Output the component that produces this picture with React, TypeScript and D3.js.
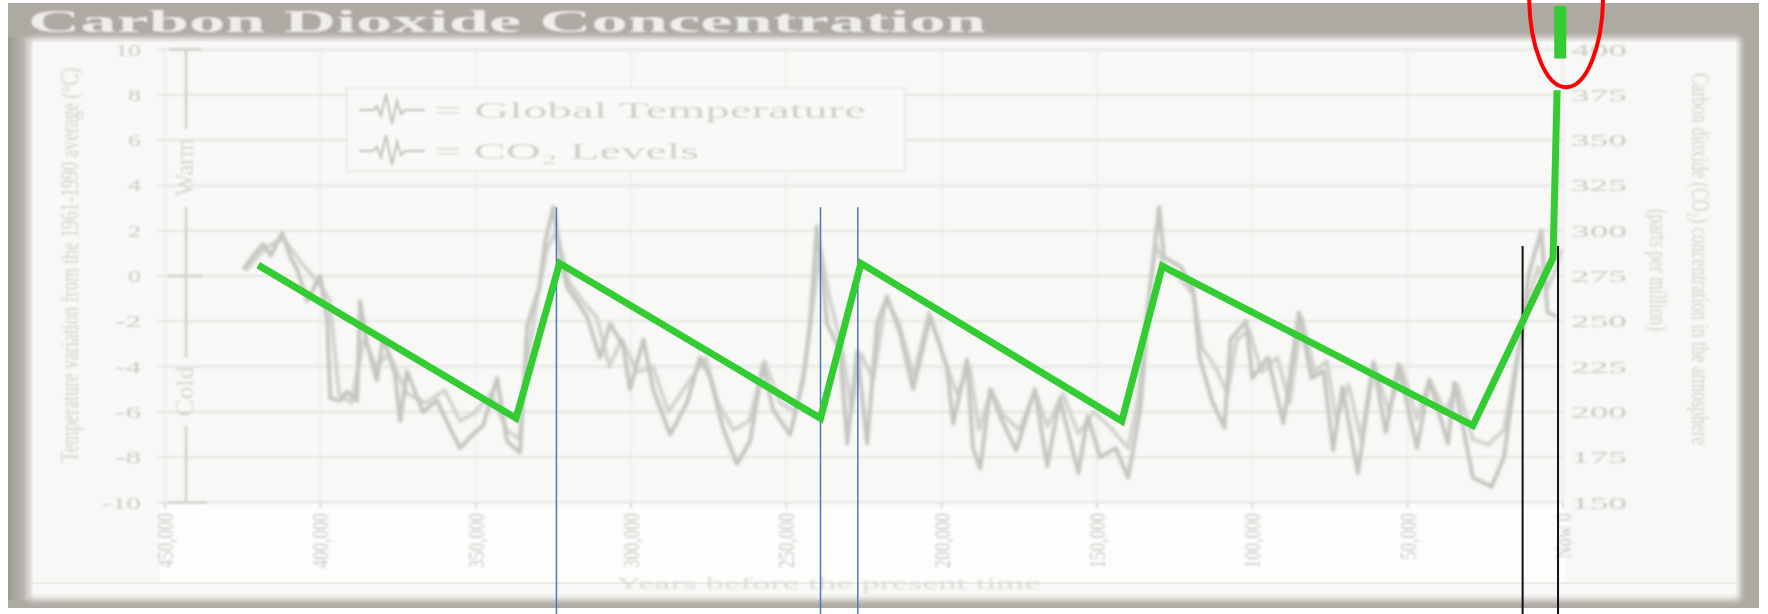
import React from "react";
import * as d3 from "d3";

// ---------- data ----------
const ageTicks = [450, 400, 350, 300, 250, 200, 150, 100, 50, 0];
const ageTickLabels = ["450,000", "400,000", "350,000", "300,000", "250,000", "200,000", "150,000", "100,000", "50,000", "Now 0"];
const tempTicks = [10, 8, 6, 4, 2, 0, -2, -4, -6, -8, -10];
const co2Ticks = [400, 375, 350, 325, 300, 275, 250, 225, 200, 175, 150];

// Global temperature (age in thousands of years, °C vs 1961-1990)
const temperature: [number, number][] = [
  [424.8, 0.3], [421, 1.0], [418.4, 1.4], [416, 0.9], [412.3, 1.9], [409.5, 0.8], [407.5, 0.3], [404.2, -1.1],
  [400.1, 0.0], [397.8, -1.9], [396.8, -5.4], [393.5, -5.5], [391.4, -5.1], [388.2, -5.5], [387.2, -1.1], [385, -3.0],
  [381.8, -4.6], [379.8, -2.7], [376, -4.3], [374.3, -6.4], [372.1, -4.2], [367, -6.0], [362.4, -5.5], [358, -6.8],
  [355, -7.6], [351, -7.0], [347.6, -6.6], [343.1, -4.5], [339.9, -7.3], [335.7, -7.8], [333.4, -2.2], [329.5, -0.5],
  [327.6, 1.5], [325, 3.05], [322.5, 0.6], [320.5, -0.5], [317, -1.2], [314.1, -1.8], [310, -3.6], [306.7, -2.1],
  [302.5, -3.1], [300.3, -5.0], [296, -2.8], [292.9, -5.0], [287.4, -7.0], [282, -5.6], [277.8, -3.6], [274.5, -4.5],
  [270.4, -6.7], [265.9, -8.3], [261.7, -7.3], [257.5, -3.9], [254.3, -5.9], [248.8, -7.0], [244.6, -4.6], [242.4, -2.1],
  [240.1, 2.2], [236.9, -2.1], [232.7, -3.3], [230.4, -7.4], [227.2, -3.3], [224, -7.4], [220.8, -2.1], [217.6, -0.9],
  [213.4, -2.5], [209.2, -5.0], [203.7, -1.8], [198.3, -4.0], [196.3, -6.5], [191.8, -3.7], [189.9, -7.6], [187.6, -8.5],
  [184.4, -5.0], [181.2, -6.2], [176, -7.7], [170, -5.0], [166, -8.4], [162, -5.4], [156, -8.7], [153, -6.2],
  [149, -8.0], [144, -7.6], [140, -8.9], [136, -5.8], [133, -0.6], [130, 3.05], [128.5, 0.85], [123, 0.4],
  [119, -0.6], [117, -3.6], [113, -5.5], [109, -6.7], [107, -2.8], [102, -2.0], [100, -4.5], [95, -3.6],
  [90, -6.5], [85, -1.6], [81, -4.5], [77, -4.2], [74, -7.7], [71, -4.9], [66, -8.7], [61, -3.9],
  [57, -6.9], [53, -3.9], [47, -7.6], [43, -4.6], [37, -7.4], [35, -4.7], [29, -8.9], [23, -9.3],
  [19, -8.0], [15, -4.0], [11, 0.1], [7, 2.0], [5, -1.6], [2, -1.8],
];

// CO2 levels (age in thousands of years, ppm)
const co2: [number, number][] = [
  [424, 278], [418, 290], [412, 296], [406, 282], [400, 270], [397, 262], [394, 210], [390, 205], [386, 240],
  [382, 225], [378, 232], [372, 210], [366, 205], [360, 212], [355, 195], [350, 200], [345, 210], [340, 190],
  [336, 185], [333, 230], [330, 265], [327, 290], [324, 300], [320, 272], [316, 262], [311, 252], [307, 225],
  [303, 240], [298, 222], [293, 225], [288, 200], [282, 215], [276, 230], [272, 205], [267, 190], [262, 195],
  [257, 228], [252, 205], [247, 200], [244, 225], [241, 265], [239, 290], [236, 262], [232, 235], [229, 200],
  [226, 232], [222, 218], [218, 262], [214, 250], [209, 220], [204, 255], [199, 228], [195, 210], [191, 225],
  [188, 190], [184, 212], [180, 198], [175, 190], [170, 212], [166, 192], [161, 210], [156, 188], [151, 200],
  [146, 192], [140, 180], [137, 205], [134, 255], [131, 292], [128, 280], [124, 275], [119, 265], [116, 235],
  [112, 225], [108, 210], [105, 240], [101, 245], [97, 222], [92, 230], [88, 205], [84, 252], [80, 222],
  [76, 228], [73, 195], [69, 215], [65, 185], [61, 228], [56, 200], [52, 225], [47, 196], [43, 218],
  [38, 200], [34, 215], [29, 185], [24, 182], [19, 190], [15, 228], [11, 262], [8, 280], [5, 268],
  [2, 280], [0.5, 290],
];

// Green overlay (age k, ppm)
const greenTrend: [number, number][] = [
  [420, 281], [337, 196.5], [323, 282], [239, 196.5], [226, 282], [142, 195], [129, 280.5],
  [29, 192.5], [3.2, 285], [1.9, 377.5],
];
const greenTop: [number, number][] = [[0.9, 395], [0.9, 424]];

// Marker lines (age k, top value in ppm)
const blueMarkers: [number, number][] = [[324, 313], [239, 313], [227, 313]];
const blackMarkers: [number, number][] = [[13, 291.5], [1.6, 291.5]];
// Highlight ellipse (age k, ppm)
const highlight = { age: -1, ppm: 430 };

const legendItems = ["= Global Temperature", "= CO\u2082 Levels"];

// ---------- layout ----------
const W = 1768, H = 614;
const x = d3.scaleLinear().domain([450, 0]).range([165, 1563]);
const yT = d3.scaleLinear().domain([-10, 10]).range([502.5, 49.5]);
const yC = d3.scaleLinear().domain([150, 400]).range([502.5, 49.5]);

const serif = "'Liberation Serif', 'DejaVu Serif', 'Times New Roman', serif";
const faint = "#cbcbc7";

export default function App() {
  const tLine = d3.line<[number, number]>().x(d => x(d[0])).y(d => yT(d[1]));
  const cLine = d3.line<[number, number]>().x(d => x(d[0])).y(d => yC(d[1]));
  const icon = "M 0 0 L 14 0 L 18 -4 L 22 6 L 27 -16 L 33 14 L 38 -9 L 42 4 L 46 0 L 66 0";

  return (
    <svg width={W} height={H} style={{ position: "absolute", left: 0, top: 0 }}>
      <defs>
        <filter id="soft" x="-5%" y="-5%" width="110%" height="110%">
          <feGaussianBlur stdDeviation="1.2" />
        </filter>
        <filter id="softer" x="-5%" y="-5%" width="110%" height="110%">
          <feGaussianBlur stdDeviation="1.6" />
        </filter>
        <filter id="edge" x="-5%" y="-5%" width="110%" height="110%">
          <feGaussianBlur stdDeviation="3" />
        </filter>
        <linearGradient id="leftEdge" x1="0" x2="1" y1="0" y2="0">
          <stop offset="0" stopColor="#9c9992" />
          <stop offset="1" stopColor="#c2c0ba" />
        </linearGradient>
      </defs>
      <rect x={0} y={0} width={W} height={H} fill="#ffffff" />
      {/* frame */}
      <rect x={8} y={3} width={1751} height={605} fill="#adaaa3" />
      <rect x={8} y={37} width={21} height={563} fill="url(#leftEdge)" />
      <rect x={29} y={38} width={1711} height={562} fill="#f7f7f5" filter="url(#edge)" />
      <rect x={33} y={42} width={1703} height={552} fill="#f8f8f6" />
      <rect x={160} y={503} width={1405} height={80} fill="#fdfdfc" />
      <line x1={33} x2={1736} y1={583} y2={583} stroke="#ebebe8" strokeWidth={2} />

      <g filter="url(#soft)">
        <text x={28} y={32} fontFamily={serif} fontWeight="bold" fontSize={31} fill="#efeeea"
          textLength={958} lengthAdjust="spacingAndGlyphs">Carbon Dioxide Concentration</text>

        {/* grid */}
        {ageTicks.map(a => (
          <line key={"vg" + a} x1={x(a)} x2={x(a)} y1={yT(10)} y2={yT(-10)} stroke="#efefec" strokeWidth={2} />
        ))}
        {tempTicks.map(t => (
          <line key={"hg" + t} x1={157} x2={x(0)} y1={yT(t)} y2={yT(t)} stroke="#e4e4e1" strokeWidth={2} />
        ))}
        {ageTicks.map(a => (
          <line key={"xt" + a} x1={x(a)} x2={x(a)} y1={yT(-10)} y2={yT(-10) + 6} stroke="#d8d8d4" strokeWidth={2} />
        ))}

        {/* warm/cold scale */}
        <g stroke="#cfcfcb" strokeWidth={2.5}>
          <line x1={186} x2={186} y1={yT(10)} y2={yT(6.5)} />
          <line x1={186} x2={186} y1={yT(3.05)} y2={yT(-3.6)} />
          <line x1={186} x2={186} y1={yT(-6.6)} y2={yT(-10)} />
          <line x1={170} x2={201} y1={yT(10)} y2={yT(10)} />
          <line x1={168} x2={203} y1={yT(0)} y2={yT(0)} />
          <line x1={168} x2={207} y1={yT(-10)} y2={yT(-10)} />
        </g>
        <text transform={`translate(193,${yT(4.8)}) scale(1.3,1) rotate(-90)`} textAnchor="middle" fontFamily={serif}
          fontSize={19} fill="#d6d6d2" textLength={58} lengthAdjust="spacingAndGlyphs">Warm</text>
        <text transform={`translate(193,${yT(-5.1)}) scale(1.3,1) rotate(-90)`} textAnchor="middle" fontFamily={serif}
          fontSize={19} fill="#d6d6d2" textLength={50} lengthAdjust="spacingAndGlyphs">Cold</text>

        {/* left axis labels */}
        {tempTicks.map(t => {
          const s = t < 0 ? "-" + Math.abs(t) : String(t);
          return (
            <text key={"tl" + t} x={141} y={yT(t) + 6} textAnchor="end" fontFamily={serif} fontSize={17} fill={faint}
              textLength={s.length * 13} lengthAdjust="spacingAndGlyphs">{s}</text>
          );
        })}
        {/* right axis labels */}
        {co2Ticks.map(c => (
          <text key={"cl" + c} x={1571} y={yC(c) + 6} fontFamily={serif} fontSize={17} fill={faint}
            textLength={56} lengthAdjust="spacingAndGlyphs">{c}</text>
        ))}
        {/* x labels */}
        {ageTicks.map((a, i) => (
          <text key={"xl" + a} transform={`translate(${x(a) + 8},513) scale(1.4,1) rotate(-90)`} textAnchor="end"
            fontFamily={serif} fontSize={17} fill={faint}>{ageTickLabels[i]}</text>
        ))}

        {/* axis titles */}
        <text transform="translate(78,265) scale(1.3,1) rotate(-90)" textAnchor="middle" fontFamily={serif} fontSize={19}
          fill="#d2d2ce" textLength={394} lengthAdjust="spacingAndGlyphs">
          Temperature variation from the 1961-1990 average (°C)
        </text>
        <text transform="translate(1692,259) scale(1.3,1) rotate(90)" textAnchor="middle" fontFamily={serif} fontSize={19}
          fill="#d2d2ce" textLength={372} lengthAdjust="spacingAndGlyphs">
          Carbon dioxide (CO₂) concentration in the atmosphere
        </text>
        <text transform="translate(1650,270) scale(1.3,1) rotate(90)" textAnchor="middle" fontFamily={serif} fontSize={19}
          fill="#d2d2ce" textLength={122} lengthAdjust="spacingAndGlyphs">(parts per million)</text>
        <text x={828} y={589} textAnchor="middle" fontFamily={serif} fontSize={17} fill="#dcdcd8"
          textLength={425} lengthAdjust="spacingAndGlyphs">Years before the present time</text>

        {/* legend */}
        <rect x={347} y={88} width={558} height={83} fill="#f9f9f7" stroke="#e9e9e6" strokeWidth={2} />
        {legendItems.map((l, i) => (
          <g key={l}>
            <path d={icon} transform={`translate(359,${110 + i * 41})`} fill="none" stroke="#c9c9c5" strokeWidth={2.5} />
            <text x={434} y={118 + i * 41} fontFamily={serif} fontSize={23} fill="#d0d0cc"
              textLength={i === 0 ? 432 : 265} lengthAdjust="spacingAndGlyphs">{l}</text>
          </g>
        ))}
      </g>

      {/* curves */}
      <g filter="url(#softer)">
        <path d={cLine(co2) || ""} fill="none" stroke="#d2d2ce" strokeWidth={4} strokeLinejoin="round" />
        <path d={tLine(temperature) || ""} fill="none" stroke="#c4c4c0" strokeWidth={4} strokeLinejoin="round" />
      </g>

      {/* annotations */}
      {blueMarkers.map(([a, top], i) => (
        <line key={"b" + i} x1={x(a)} x2={x(a)} y1={yC(top)} y2={H} stroke="#4a78c8" strokeWidth={1.5} />
      ))}
      {blackMarkers.map(([a, top], i) => (
        <line key={"k" + i} x1={x(a)} x2={x(a)} y1={yC(top)} y2={H} stroke="#111" strokeWidth={2} />
      ))}
      <path d={cLine(greenTrend) || ""} fill="none" stroke="#33cc33" strokeWidth={7} strokeLinejoin="miter" />
      <path d={cLine(greenTop) || ""} fill="none" stroke="#33cc33" strokeWidth={12} />
      <ellipse cx={x(highlight.age)} cy={yC(highlight.ppm)} rx={37} ry={92} fill="none" stroke="#ff0000" strokeWidth={4} />
    </svg>
  );
}
